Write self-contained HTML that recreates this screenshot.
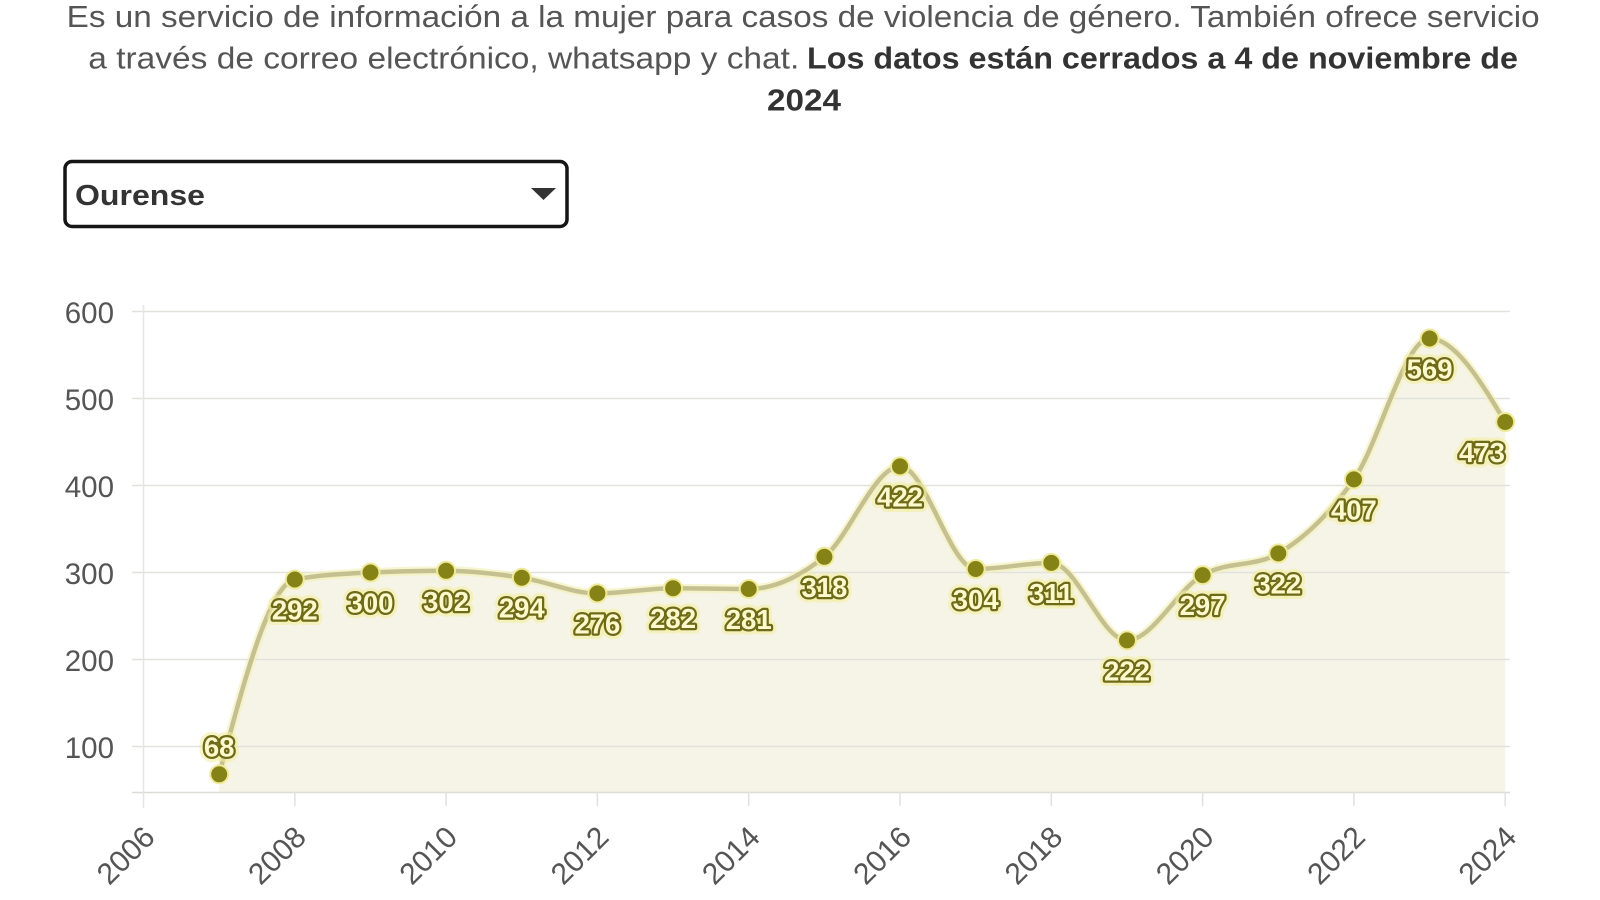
<!DOCTYPE html>
<html>
<head>
<meta charset="utf-8">
<style>
html,body{margin:0;padding:0;background:#fff;}
svg{display:block;}
text{font-family:"Liberation Sans",sans-serif;}
</style>
</head>
<body>
<svg width="1600" height="900" viewBox="0 0 1600 900" xmlns="http://www.w3.org/2000/svg">
<rect x="0" y="0" width="1600" height="900" fill="#fff"/>

<!-- Title -->
<text x="66.7" y="27" font-size="31" fill="#555" textLength="1473" lengthAdjust="spacingAndGlyphs">Es un servicio de información a la mujer para casos de violencia de género. También ofrece servicio</text>
<text y="68.5" font-size="31">
<tspan x="88.3" fill="#555" textLength="711" lengthAdjust="spacingAndGlyphs">a través de correo electrónico, whatsapp y chat.</tspan>
<tspan x="807" fill="#333" font-weight="bold" textLength="711" lengthAdjust="spacingAndGlyphs">Los datos están cerrados a 4 de noviembre de</tspan>
</text>
<text x="767" y="110.5" font-size="31" fill="#333" font-weight="bold" textLength="74" lengthAdjust="spacingAndGlyphs">2024</text>

<!-- Dropdown -->
<rect x="65" y="161.5" width="502" height="65" rx="7" ry="7" fill="#fff" stroke="#151515" stroke-width="3.5"/>
<text x="75" y="205" font-size="29" font-weight="bold" fill="#333" textLength="130" lengthAdjust="spacingAndGlyphs">Ourense</text>
<polygon points="531,188 556,188 543.5,200" fill="#333"/>

<!-- Area fill -->
<path d="M219.2,774.3 C244.4,679.2 269.6,584.2 294.8,579.5 C320.0,574.8 345.3,573.6 370.5,572.5 C395.7,571.4 420.9,570.8 446.1,570.8 C471.3,570.8 496.6,573.9 521.8,577.7 C547.0,581.5 572.2,593.4 597.4,593.4 C622.6,593.4 647.9,588.2 673.1,588.2 C698.3,588.2 723.5,589.0 748.7,589.0 C773.9,589.0 799.2,577.2 824.4,556.8 C849.6,536.4 874.8,466.4 900.0,466.4 C925.2,466.4 950.5,569.0 975.7,569.0 C1000.9,569.0 1026.1,562.9 1051.3,562.9 C1076.5,562.9 1101.8,640.4 1127.0,640.4 C1152.2,640.4 1177.4,589.6 1202.6,575.1 C1227.8,560.6 1253.1,567.9 1278.3,553.4 C1303.5,538.9 1328.7,515.2 1353.9,479.4 C1379.1,443.6 1404.4,338.5 1429.6,338.5 C1454.8,338.5 1480.0,380.3 1505.2,422.0 L1505.2,792.5 L219.2,792.5 Z" fill="#f6f4e7"/>

<!-- Gridlines -->
<g stroke="#e2e1dc" stroke-width="1.5">
<line x1="132" y1="311.5" x2="1510" y2="311.5"/>
<line x1="132" y1="398.5" x2="1510" y2="398.5"/>
<line x1="132" y1="485.5" x2="1510" y2="485.5"/>
<line x1="132" y1="572.5" x2="1510" y2="572.5"/>
<line x1="132" y1="659.5" x2="1510" y2="659.5"/>
<line x1="132" y1="746.5" x2="1510" y2="746.5"/>
</g>
<line x1="132" y1="792.5" x2="1510" y2="792.5" stroke="#dcdcd6" stroke-width="1.5"/>
<line x1="143.5" y1="305" x2="143.5" y2="808" stroke="#e6e6e6" stroke-width="1.5"/>
<g stroke="#e0e0e0" stroke-width="1.5">
<line x1="294.8" y1="792" x2="294.8" y2="806"/>
<line x1="446.1" y1="792" x2="446.1" y2="806"/>
<line x1="597.4" y1="792" x2="597.4" y2="806"/>
<line x1="748.7" y1="792" x2="748.7" y2="806"/>
<line x1="900" y1="792" x2="900" y2="806"/>
<line x1="1051.3" y1="792" x2="1051.3" y2="806"/>
<line x1="1202.6" y1="792" x2="1202.6" y2="806"/>
<line x1="1353.9" y1="792" x2="1353.9" y2="806"/>
<line x1="1505.2" y1="792" x2="1505.2" y2="806"/>
</g>

<!-- Y axis labels -->
<g font-size="29.5" fill="#555" text-anchor="end">
<text x="114" y="323">600</text>
<text x="114" y="410">500</text>
<text x="114" y="497">400</text>
<text x="114" y="584">300</text>
<text x="114" y="671">200</text>
<text x="114" y="758">100</text>
</g>

<!-- X axis labels -->
<g font-size="30" fill="#555" text-anchor="end">
<text transform="translate(156.5,839) rotate(-45)">2006</text>
<text transform="translate(307.8,839) rotate(-45)">2008</text>
<text transform="translate(459.1,839) rotate(-45)">2010</text>
<text transform="translate(610.4,839) rotate(-45)">2012</text>
<text transform="translate(761.7,839) rotate(-45)">2014</text>
<text transform="translate(913,839) rotate(-45)">2016</text>
<text transform="translate(1064.3,839) rotate(-45)">2018</text>
<text transform="translate(1215.6,839) rotate(-45)">2020</text>
<text transform="translate(1366.9,839) rotate(-45)">2022</text>
<text transform="translate(1518.2,839) rotate(-45)">2024</text>
</g>

<!-- Line -->
<path d="M219.2,774.3 C244.4,679.2 269.6,584.2 294.8,579.5 C320.0,574.8 345.3,573.6 370.5,572.5 C395.7,571.4 420.9,570.8 446.1,570.8 C471.3,570.8 496.6,573.9 521.8,577.7 C547.0,581.5 572.2,593.4 597.4,593.4 C622.6,593.4 647.9,588.2 673.1,588.2 C698.3,588.2 723.5,589.0 748.7,589.0 C773.9,589.0 799.2,577.2 824.4,556.8 C849.6,536.4 874.8,466.4 900.0,466.4 C925.2,466.4 950.5,569.0 975.7,569.0 C1000.9,569.0 1026.1,562.9 1051.3,562.9 C1076.5,562.9 1101.8,640.4 1127.0,640.4 C1152.2,640.4 1177.4,589.6 1202.6,575.1 C1227.8,560.6 1253.1,567.9 1278.3,553.4 C1303.5,538.9 1328.7,515.2 1353.9,479.4 C1379.1,443.6 1404.4,338.5 1429.6,338.5 C1454.8,338.5 1480.0,380.3 1505.2,422.0" fill="none" stroke="#f3f0b0" stroke-width="9" stroke-opacity="0.6" stroke-linecap="round"/>
<path d="M219.2,774.3 C244.4,679.2 269.6,584.2 294.8,579.5 C320.0,574.8 345.3,573.6 370.5,572.5 C395.7,571.4 420.9,570.8 446.1,570.8 C471.3,570.8 496.6,573.9 521.8,577.7 C547.0,581.5 572.2,593.4 597.4,593.4 C622.6,593.4 647.9,588.2 673.1,588.2 C698.3,588.2 723.5,589.0 748.7,589.0 C773.9,589.0 799.2,577.2 824.4,556.8 C849.6,536.4 874.8,466.4 900.0,466.4 C925.2,466.4 950.5,569.0 975.7,569.0 C1000.9,569.0 1026.1,562.9 1051.3,562.9 C1076.5,562.9 1101.8,640.4 1127.0,640.4 C1152.2,640.4 1177.4,589.6 1202.6,575.1 C1227.8,560.6 1253.1,567.9 1278.3,553.4 C1303.5,538.9 1328.7,515.2 1353.9,479.4 C1379.1,443.6 1404.4,338.5 1429.6,338.5 C1454.8,338.5 1480.0,380.3 1505.2,422.0" fill="none" stroke="#c5c090" stroke-width="4.5" stroke-linecap="round"/>

<!-- Dots -->
<g fill="#858316" stroke="#efeb9a" stroke-width="2">
<circle cx="219.2" cy="774.3" r="9"/>
<circle cx="294.8" cy="579.5" r="9"/>
<circle cx="370.5" cy="572.5" r="9"/>
<circle cx="446.1" cy="570.8" r="9"/>
<circle cx="521.8" cy="577.7" r="9"/>
<circle cx="597.4" cy="593.4" r="9"/>
<circle cx="673.1" cy="588.2" r="9"/>
<circle cx="748.7" cy="589.0" r="9"/>
<circle cx="824.4" cy="556.8" r="9"/>
<circle cx="900.0" cy="466.4" r="9"/>
<circle cx="975.7" cy="569.0" r="9"/>
<circle cx="1051.3" cy="562.9" r="9"/>
<circle cx="1127.0" cy="640.4" r="9"/>
<circle cx="1202.6" cy="575.1" r="9"/>
<circle cx="1278.3" cy="553.4" r="9"/>
<circle cx="1353.9" cy="479.4" r="9"/>
<circle cx="1429.6" cy="338.5" r="9"/>
<circle cx="1505.2" cy="422.0" r="9"/>
</g>

<!-- Data labels: halo -->
<g font-size="27.5" font-weight="bold" text-anchor="middle" fill="none" stroke="#f2ee9c" stroke-width="11" stroke-opacity="0.55" stroke-linejoin="round">
<text x="219.2" y="756.5">68</text>
<text x="294.8" y="619.5">292</text>
<text x="370.5" y="612.5">300</text>
<text x="446.1" y="610.8">302</text>
<text x="521.8" y="617.7">294</text>
<text x="597.4" y="633.4">276</text>
<text x="673.1" y="628.2">282</text>
<text x="748.7" y="629">281</text>
<text x="824.4" y="596.8">318</text>
<text x="900" y="506.4">422</text>
<text x="975.7" y="609">304</text>
<text x="1051.3" y="602.9">311</text>
<text x="1127" y="680.4">222</text>
<text x="1202.6" y="615.1">297</text>
<text x="1278.3" y="593.4">322</text>
<text x="1353.9" y="519.4">407</text>
<text x="1429.6" y="378.5">569</text>
<text x="1482" y="462">473</text>
</g>
<!-- Data labels -->
<g font-size="27.5" font-weight="bold" text-anchor="middle" fill="#fcf9cc" stroke="#6e6a18" stroke-width="4.5" stroke-linejoin="round" paint-order="stroke">
<text x="219.2" y="756.5">68</text>
<text x="294.8" y="619.5">292</text>
<text x="370.5" y="612.5">300</text>
<text x="446.1" y="610.8">302</text>
<text x="521.8" y="617.7">294</text>
<text x="597.4" y="633.4">276</text>
<text x="673.1" y="628.2">282</text>
<text x="748.7" y="629">281</text>
<text x="824.4" y="596.8">318</text>
<text x="900" y="506.4">422</text>
<text x="975.7" y="609">304</text>
<text x="1051.3" y="602.9">311</text>
<text x="1127" y="680.4">222</text>
<text x="1202.6" y="615.1">297</text>
<text x="1278.3" y="593.4">322</text>
<text x="1353.9" y="519.4">407</text>
<text x="1429.6" y="378.5">569</text>
<text x="1482" y="462">473</text>
</g>
</svg>
</body>
</html>
